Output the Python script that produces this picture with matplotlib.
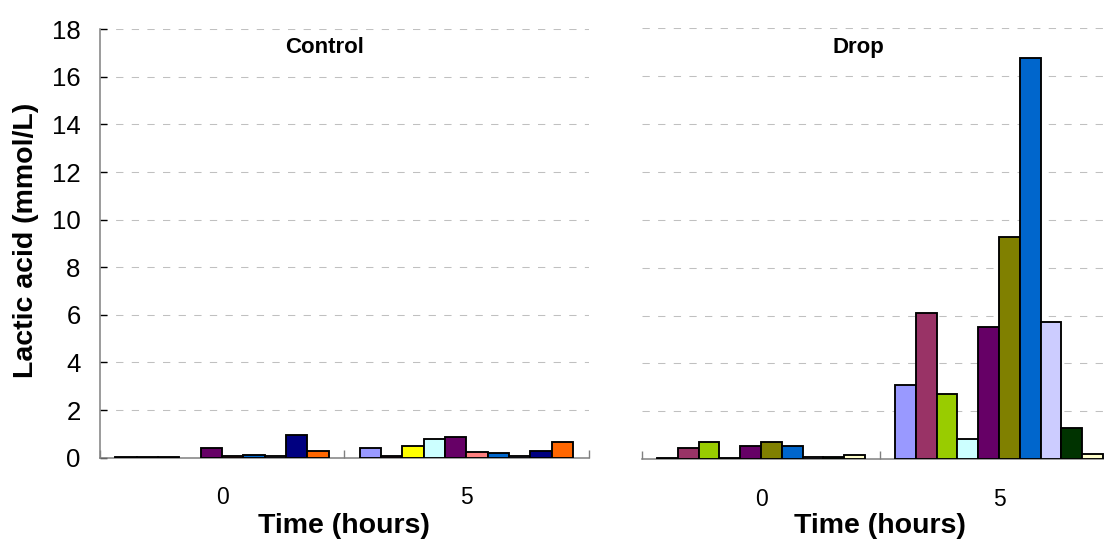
import numpy as np
import matplotlib
matplotlib.use("Agg")
import matplotlib.pyplot as plt

plt.rcParams['font.family'] = ['Liberation Sans', 'DejaVu Sans']

# ---- data ----
time_labels = ['0', '5']
panel_titles = ['Control', 'Drop']
ylabel = 'Lactic acid (mmol/L)'
xlabel = 'Time (hours)'
yticks = [0, 2, 4, 6, 8, 10, 12, 14, 16, 18]

control_t0 = [0.04, 0.04, 0.04, np.nan, 0.42, 0.05, 0.13, 0.05, 0.95, 0.27]
control_t5 = [0.42, 0.05, 0.50, 0.80, 0.87, 0.25, 0.20, 0.05, 0.27, 0.64]
drop_t0 = [0.05, 0.48, 0.71, 0.05, 0.56, 0.71, 0.55, 0.10, 0.10, 0.19]
drop_t5 = [3.11, 6.10, 2.74, 0.86, 5.52, 9.27, 16.74, 5.74, 1.30, 0.23]

control_colors = ['#9999FF', '#993366', '#FFFF00', '#CCFFFF', '#660066',
                  '#FF8080', '#0066CC', '#CCCCFF', '#000080', '#FF6600']
drop_colors = ['#9999FF', '#993366', '#99CC00', '#CCFFFF', '#660066',
               '#808000', '#0066CC', '#CCCCFF', '#003300', '#FFFFCC']

W, H = 1104, 540
fig = plt.figure(figsize=(W / 100, H / 100), dpi=100)

def px_rect(l, top, r, bottom):
    return [l / W, 1 - bottom / H, (r - l) / W, (bottom - top) / H]

ax_c = fig.add_axes(px_rect(100, 29.2, 588.5, 457.6))
ax_d = fig.add_axes(px_rect(642, 28.0, 1118, 459.3))

bar_w = 1 / 11.45
centers = np.array([0.5, 1.5])

def draw_panel(ax, t0, t5, colors):
    data = np.array([t0, t5])  # shape (2 times, 10 series)
    nser = data.shape[1]
    for i in range(nser):
        xs = centers + (i - (nser - 1) / 2) * bar_w
        ax.bar(xs, data[:, i], width=bar_w, color=colors[i],
               edgecolor='black', linewidth=1.35, zorder=3)
    ax.set_xlim(0, 2)
    ax.set_ylim(0, 18)
    ax.set_yticks(yticks)
    ax.set_axisbelow(True)
    ax.yaxis.grid(True, color='#c0c0c0', linewidth=0.75,
                  linestyle=(0, (7, 8)))
    ax.xaxis.grid(False)
    ax.set_xticks(centers)
    ax.set_xticklabels(time_labels, fontsize=16.5)
    ax.tick_params(axis='x', which='major', length=0, pad=20.5)
    ax.set_xticks([0, 1, 2], minor=True)
    ax.tick_params(axis='x', which='minor', direction='in', length=5.5,
                   width=1.0, color='#808080')
    for s in ['top', 'right']:
        ax.spines[s].set_visible(False)
    ax.spines['bottom'].set_color('#808080')
    ax.spines['bottom'].set_linewidth(1.1)
    ax.spines['left'].set_color('#808080')
    ax.spines['left'].set_linewidth(1.1)
    ax.patch.set_alpha(0)

draw_panel(ax_c, control_t0, control_t5, control_colors)
draw_panel(ax_d, drop_t0, drop_t5, drop_colors)

ax_c.tick_params(axis='y', direction='in', length=5, width=1.0,
                 color='black', labelsize=18.5, pad=14)

ax_d.spines['left'].set_visible(False)
ax_d.tick_params(axis='y', length=0, labelleft=False)

# titles
fig.text(324.5 / W, 1 - 53.4 / H, panel_titles[0], ha='center', va='baseline',
         fontsize=16, fontweight='bold')
fig.text(858.3 / W, 1 - 53.4 / H, panel_titles[1], ha='center', va='baseline',
         fontsize=16, fontweight='bold')

# x labels
fig.text(344 / W, 1 - 533 / H, xlabel, ha='center', va='baseline',
         fontsize=20.5, fontweight='bold')
fig.text(880 / W, 1 - 533 / H, xlabel, ha='center', va='baseline',
         fontsize=20.5, fontweight='bold')

# y label
fig.text(26 / W, 1 - 240 / H, ylabel, ha='center', va='center',
         rotation=90, fontsize=20.5, fontweight='bold')

fig.savefig('out.png', dpi=100)
